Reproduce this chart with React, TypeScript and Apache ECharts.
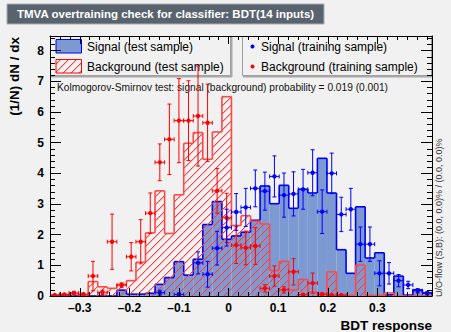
import React, { useEffect, useRef } from "react";
import * as echarts from "echarts";

// Histogram binning of the classifier output
const X_MIN = -0.36;
const X_MAX = 0.41;
const N_BINS = 40;
const BIN_W = (X_MAX - X_MIN) / N_BINS;
const Y_MAX = 8.48;

// Normalised test-sample histograms, one value per bin
const signalTest = [
  0, 0, 0, 0, 0, 0, 0, 0.19, 0.06, 0.06,
  0.09, 0.38, 0.6, 1.12, 0.68, 1.2, 2.33, 3.08, 1.85, 1.96,
  2.08, 2.47, 3.59, 3.01, 3.61, 2.86, 3.48, 3.36, 4.49, 3.36,
  1.51, 0.74, 2.91, 1.24, 1.41, 0.04, 0.65, 0.03, 0.2, 0.1,
];
const backgroundTest = [
  0.04, 0.05, 0.07, 0.03, 0.47, 0.3, 0.25, 0.38, 0.5, 1.1,
  2.06, 3.43, 2.04, 3.3, 4.98, 5.33, 4.46, 5.35, 6.5, 2.3,
  2.62, 2.44, 2.35, 0.83, 1.13, 0.2, 0.54, 0.13, 0.05, 0.79,
  0.03, 0.02, 1.01, 0.02, 0.02, 0.1, 0, 0, 0, 0,
];

// Training-sample points with their statistical errors
const signalTrain = [
  0, 0, 0, 0, 0, 0, 0, 0, 0, 0,
  0, 0.11, 0, 0.05, 0, 1.08, 0.71, 1.56, 2.23, 2.74,
  2.89, 3.51, 3.42, 3.9, 3.29, 3.33, 3.48, 4.02, 2.75, 4.0,
  2.66, 2.83, 1.69, 1.69, 0.74, 0.74, 0.5, 0.36, 0.17, 0.09,
];
const signalTrainErr = [
  0, 0, 0, 0, 0, 0, 0, 0, 0, 0,
  0, 0.08, 0, 0.05, 0, 0.36, 0.42, 0.55, 0.6, 0.6,
  0.62, 0.6, 0.62, 0.67, 0.72, 0.72, 0.65, 0.75, 0.71, 0.66,
  0.56, 0.68, 0.56, 0.56, 0.41, 0.35, 0.2, 0.12, 0.07, 0.05,
];
const backgroundTrain = [
  0.03, 0.05, 0.1, 0.06, 0.65, 0.12, 1.77, 0.35, 1.28, 1.77,
  2.7, 4.36, 5.11, 5.72, 5.72, 5.87, 5.65, 3.43, 2.55, 1.66,
  1.57, 1.63, 0.25, 0.65, 0.2, 0.79, 0.04, 0.42, 0.06, 0.03,
  0.03, 0, 0, 0, 0, 0, 0, 0, 0, 0,
];
const backgroundTrainErr = [
  0.02, 0.03, 0.05, 0.03, 0.48, 0.07, 0.9, 0.08, 0.46, 0.72,
  0.66, 0.6, 1.15, 1.37, 1.3, 1.63, 1.26, 0.73, 0.8, 0.6,
  0.55, 0.6, 0.12, 0.33, 0.1, 0.43, 0.03, 0.33, 0.04, 0.02,
  0.02, 0, 0, 0, 0, 0, 0, 0, 0, 0,
];

// Axis ticks
const xMajorTicks = [-0.3, -0.2, -0.1, 0, 0.1, 0.2, 0.3];
const yMajorTicks = [0, 1, 2, 3, 4, 5, 6, 7, 8];
const X_MINOR_STEP = 0.02;
const Y_MINOR_STEP = 0.2;

const FONT = '"Liberation Sans", Arial, Helvetica, sans-serif';
const BG = "#f1f1f1";
const SIG_FILL = "#7d99d1";
const SIG_LINE = "#0000ee";
const BKG_LINE = "#ff0000";
const BKG_OUTLINE = "#ff4a4a";
const HATCH_TILE = 8;

const range = (from: number, to: number, step: number) => {
  const out: number[] = [];
  const n = Math.round((to - from) / step);
  for (let k = 0; k <= n; k++) out.push(+(from + k * step).toFixed(4));
  return out;
};

// Repeating "/" hatch tile: a solid red pixel per row plus a soft neighbour
function makeHatchPattern() {
  const c = document.createElement("canvas");
  c.width = HATCH_TILE;
  c.height = HATCH_TILE;
  const ctx = c.getContext("2d")!;
  ctx.clearRect(0, 0, HATCH_TILE, HATCH_TILE);
  for (let i = 0; i < HATCH_TILE; i++) {
    ctx.fillStyle = "#ff3c3c";
    ctx.fillRect(i, HATCH_TILE - 1 - i, 1, 1);
    ctx.fillStyle = "rgba(255,90,90,0.4)";
    ctx.fillRect(i, (HATCH_TILE - i) % HATCH_TILE, 1, 1);
  }
  return { image: c.toDataURL(), repeat: "repeat", imageWidth: HATCH_TILE, imageHeight: HATCH_TILE };
}

function histData(values: number[]) {
  return values.map((v, i) => [X_MIN + (i + 0.5) * BIN_W, v, i > 0 ? values[i - 1] : 0, i]);
}

function histRenderer(fill: any, stroke: string, lineWidth: number) {
  return (_params: any, api: any) => {
    const xc = api.value(0);
    const v = api.value(1);
    const prev = api.value(2);
    const idx = api.value(3);
    const [px0, py] = api.coord([xc - BIN_W / 2, v]);
    const [px1] = api.coord([xc + BIN_W / 2, v]);
    const [, py0] = api.coord([xc, 0]);
    const [, pyPrev] = api.coord([xc, prev]);
    const children: any[] = [];
    if (fill && v > 0) {
      children.push({
        type: "rect",
        shape: { x: px0, y: py, width: px1 - px0, height: py0 - py },
        style: { fill },
      });
    }
    const ls = { stroke, lineWidth };
    children.push({ type: "line", shape: { x1: px0, y1: py, x2: px1, y2: py }, style: { ...ls } });
    children.push({ type: "line", shape: { x1: px0, y1: pyPrev, x2: px0, y2: py }, style: { ...ls } });
    if (idx === N_BINS - 1) {
      children.push({ type: "line", shape: { x1: px1, y1: py, x2: px1, y2: py0 }, style: { ...ls } });
    }
    return { type: "group", children };
  };
}

function pointData(values: number[], errs: number[]) {
  return values.map((v, i) => [X_MIN + (i + 0.5) * BIN_W, v, errs[i]]);
}

function pointRenderer(color: string) {
  return (_params: any, api: any) => {
    const xc = api.value(0);
    const v = api.value(1);
    const e = api.value(2);
    if (!(v > 0)) return { type: "group", children: [] };
    const [cx, cy] = api.coord([xc, v]);
    const [xl] = api.coord([xc - BIN_W / 2, v]);
    const [xr] = api.coord([xc + BIN_W / 2, v]);
    const [, yt] = api.coord([xc, v + e]);
    const [, yb] = api.coord([xc, Math.max(v - e, 0)]);
    const ls = () => ({ stroke: color, lineWidth: 1 });
    const cap = 2;
    const children: any[] = [
      { type: "line", shape: { x1: xl, y1: cy, x2: xr, y2: cy }, style: ls() },
      { type: "line", shape: { x1: xl, y1: cy - cap, x2: xl, y2: cy + cap }, style: ls() },
      { type: "line", shape: { x1: xr, y1: cy - cap, x2: xr, y2: cy + cap }, style: ls() },
    ];
    if (yb - yt > 1) {
      children.push(
        { type: "line", shape: { x1: cx, y1: yt, x2: cx, y2: yb }, style: ls() },
        { type: "line", shape: { x1: cx - cap, y1: yt, x2: cx + cap, y2: yt }, style: ls() },
        { type: "line", shape: { x1: cx - cap, y1: yb, x2: cx + cap, y2: yb }, style: ls() }
      );
    }
    children.push({ type: "circle", shape: { cx, cy, r: 2.2 }, style: { fill: color } });
    return { type: "group", children };
  };
}

const fmtX = (v: number) => {
  if (Math.abs(v) < 1e-9) return "0";
  return (v < 0 ? "\u2013" : "") + Math.abs(v).toFixed(1);
};

export default function App() {
  const ref = useRef<HTMLDivElement>(null);

  useEffect(() => {
    if (!ref.current) return;
    const chart = echarts.init(ref.current, undefined, { renderer: "svg" });
    const hatch = makeHatchPattern();

    const xMinor = range(X_MIN, 0.4, X_MINOR_STEP).filter(
      (t) => !xMajorTicks.some((m) => Math.abs(m - t) < 1e-6)
    );
    const yMinor = range(0, 8.4, Y_MINOR_STEP).filter(
      (t) => !yMajorTicks.some((m) => Math.abs(m - t) < 1e-6)
    );

    const tickStyle = { color: "#000", width: 1 };
    const xBase = { type: "value", min: X_MIN, max: X_MAX, z: 10, splitLine: { show: false } };
    const yBase = { type: "value", min: 0, max: Y_MAX, z: 10, splitLine: { show: false } };
    const frameLine = { show: true, onZero: false, lineStyle: { color: "#000", width: 1 } };
    const noLine = { show: false, onZero: false };

    const xAxes = [
      {
        ...xBase,
        position: "bottom",
        axisLine: frameLine,
        axisTick: { show: true, inside: true, length: 8, lineStyle: tickStyle, customValues: xMajorTicks },
        axisLabel: {
          show: true,
          customValues: xMajorTicks,
          formatter: fmtX,
          margin: 6,
          color: "#000",
          fontFamily: FONT,
          fontWeight: "bold",
          fontSize: 12,
        },
      },
      {
        ...xBase,
        position: "bottom",
        axisLine: noLine,
        axisTick: { show: true, inside: true, length: 4, lineStyle: tickStyle, customValues: xMinor },
        axisLabel: { show: false },
      },
      {
        ...xBase,
        position: "top",
        axisLine: frameLine,
        axisTick: { show: true, inside: true, length: 8, lineStyle: tickStyle, customValues: xMajorTicks },
        axisLabel: { show: false },
      },
      {
        ...xBase,
        position: "top",
        axisLine: noLine,
        axisTick: { show: true, inside: true, length: 4, lineStyle: tickStyle, customValues: xMinor },
        axisLabel: { show: false },
      },
    ];

    const yAxes = [
      {
        ...yBase,
        position: "left",
        axisLine: frameLine,
        axisTick: { show: true, inside: true, length: 11, lineStyle: tickStyle, customValues: yMajorTicks },
        axisLabel: {
          show: true,
          customValues: yMajorTicks,
          margin: 6,
          color: "#000",
          fontFamily: FONT,
          fontWeight: "bold",
          fontSize: 12,
        },
      },
      {
        ...yBase,
        position: "left",
        axisLine: noLine,
        axisTick: { show: true, inside: true, length: 5, lineStyle: tickStyle, customValues: yMinor },
        axisLabel: { show: false },
      },
      {
        ...yBase,
        position: "right",
        axisLine: frameLine,
        axisTick: { show: true, inside: true, length: 11, lineStyle: tickStyle, customValues: yMajorTicks },
        axisLabel: { show: false },
      },
      {
        ...yBase,
        position: "right",
        axisLine: noLine,
        axisTick: { show: true, inside: true, length: 5, lineStyle: tickStyle, customValues: yMinor },
        axisLabel: { show: false },
      },
    ];

    const legendFont = { fontFamily: FONT, fontSize: 12, fill: "#000" };

    const graphics: any[] = [
      // title banner
      {
        type: "rect",
        shape: { x: 7, y: 4, width: 317, height: 20 },
        style: { fill: "#59636e", stroke: "#a7adb3", lineWidth: 1 },
        z: 20,
      },
      {
        type: "text",
        x: 17,
        y: 14,
        style: {
          text: "TMVA overtraining check for classifier: BDT(14 inputs)",
          fontFamily: FONT,
          fontWeight: "bold",
          fontSize: 11.5,
          fill: "#ffffff",
          align: "left",
          verticalAlign: "middle",
        },
        z: 21,
      },
      // legend boxes
      {
        type: "rect",
        shape: { x: 50.5, y: 36.5, width: 180, height: 39 },
        style: { fill: "none", stroke: "#9a9a9a", lineWidth: 1 },
        z: 1,
      },
      { type: "line", shape: { x1: 231.5, y1: 37, x2: 231.5, y2: 77 }, style: { stroke: "#a8a8a8", lineWidth: 2 }, z: 1 },
      { type: "line", shape: { x1: 51, y1: 76.5, x2: 232, y2: 76.5 }, style: { stroke: "#a8a8a8", lineWidth: 2 }, z: 1 },
      {
        type: "rect",
        shape: { x: 242.5, y: 36.5, width: 189, height: 39 },
        style: { fill: "none", stroke: "#9a9a9a", lineWidth: 1 },
        z: 1,
      },
      { type: "line", shape: { x1: 243, y1: 76.5, x2: 432, y2: 76.5 }, style: { stroke: "#a8a8a8", lineWidth: 2 }, z: 1 },
      // legend entries
      {
        type: "rect",
        shape: { x: 56, y: 39.5, width: 25.5, height: 13.5 },
        style: { fill: SIG_FILL, stroke: SIG_LINE, lineWidth: 1 },
        z: 2,
      },
      {
        type: "rect",
        shape: { x: 56, y: 59.5, width: 25.5, height: 13.5 },
        style: { fill: hatch, stroke: BKG_LINE, lineWidth: 1 },
        z: 2,
      },
      { type: "text", x: 87, y: 46.5, style: { ...legendFont, text: "Signal (test sample)", verticalAlign: "middle" }, z: 2 },
      { type: "text", x: 87, y: 66.5, style: { ...legendFont, text: "Background (test sample)", verticalAlign: "middle" }, z: 2 },
      { type: "circle", shape: { cx: 252.5, cy: 46.5, r: 2 }, style: { fill: SIG_LINE }, z: 2 },
      { type: "circle", shape: { cx: 252.5, cy: 66.5, r: 2 }, style: { fill: BKG_LINE }, z: 2 },
      { type: "text", x: 261, y: 46.5, style: { ...legendFont, text: "Signal (training sample)", verticalAlign: "middle" }, z: 2 },
      { type: "text", x: 261, y: 66.5, style: { ...legendFont, text: "Background (training sample)", verticalAlign: "middle" }, z: 2 },
      // KS test result
      {
        type: "text",
        x: 57,
        y: 87,
        style: {
          text: "Kolmogorov-Smirnov test: signal (background) probability = 0.019 (0.001)",
          fontFamily: FONT,
          fontSize: 10.2,
          fill: "#111",
          verticalAlign: "middle",
        },
        z: 2,
      },
      // axis titles
      {
        type: "text",
        x: 432,
        y: 325,
        style: {
          text: "BDT response",
          fontFamily: FONT,
          fontWeight: "bold",
          fontSize: 13.5,
          fill: "#000",
          align: "right",
          verticalAlign: "middle",
        },
        z: 20,
      },
      {
        type: "text",
        x: 14,
        y: 37,
        rotation: Math.PI / 2,
        style: {
          text: "(1/N) dN / dx",
          fontFamily: FONT,
          fontWeight: "bold",
          fontSize: 13.5,
          fill: "#000",
          align: "right",
          verticalAlign: "middle",
        },
        z: 20,
      },
      {
        type: "text",
        x: 439,
        y: 297,
        rotation: Math.PI / 2,
        style: {
          text: "U/O-flow (S,B): (0.0, 0.0)% / (0.0, 0.0)%",
          fontFamily: FONT,
          fontSize: 9,
          fill: "#333",
          align: "left",
          verticalAlign: "middle",
        },
        z: 20,
      },
    ];

    chart.setOption({
      animation: false,
      backgroundColor: BG,
      grid: { left: 50, right: 19, top: 36, bottom: 36, containLabel: false },
      xAxis: xAxes,
      yAxis: yAxes,
      series: [
        {
          type: "custom",
          name: "Signal (test sample)",
          xAxisIndex: 0,
          yAxisIndex: 0,
          z: 3,
          clip: true,
          renderItem: histRenderer(SIG_FILL, SIG_LINE, 1.6),
          encode: { x: 0, y: 1 },
          data: histData(signalTest),
        },
        {
          type: "custom",
          name: "Background (test sample)",
          xAxisIndex: 0,
          yAxisIndex: 0,
          z: 4,
          clip: true,
          renderItem: histRenderer(hatch, BKG_OUTLINE, 1.6),
          encode: { x: 0, y: 1 },
          data: histData(backgroundTest),
        },
        {
          type: "custom",
          name: "Background (training sample)",
          xAxisIndex: 0,
          yAxisIndex: 0,
          z: 5,
          clip: true,
          renderItem: pointRenderer(BKG_LINE),
          encode: { x: 0, y: 1 },
          data: pointData(backgroundTrain, backgroundTrainErr),
        },
        {
          type: "custom",
          name: "Signal (training sample)",
          xAxisIndex: 0,
          yAxisIndex: 0,
          z: 6,
          clip: true,
          renderItem: pointRenderer("#0000ff"),
          encode: { x: 0, y: 1 },
          data: pointData(signalTrain, signalTrainErr),
        },
      ],
      graphic: graphics,
    });

    return () => chart.dispose();
  }, []);

  return (
    <div
      ref={ref}
      style={{ position: "absolute", left: 0, top: 0, width: 451, height: 332 }}
    />
  );
}
